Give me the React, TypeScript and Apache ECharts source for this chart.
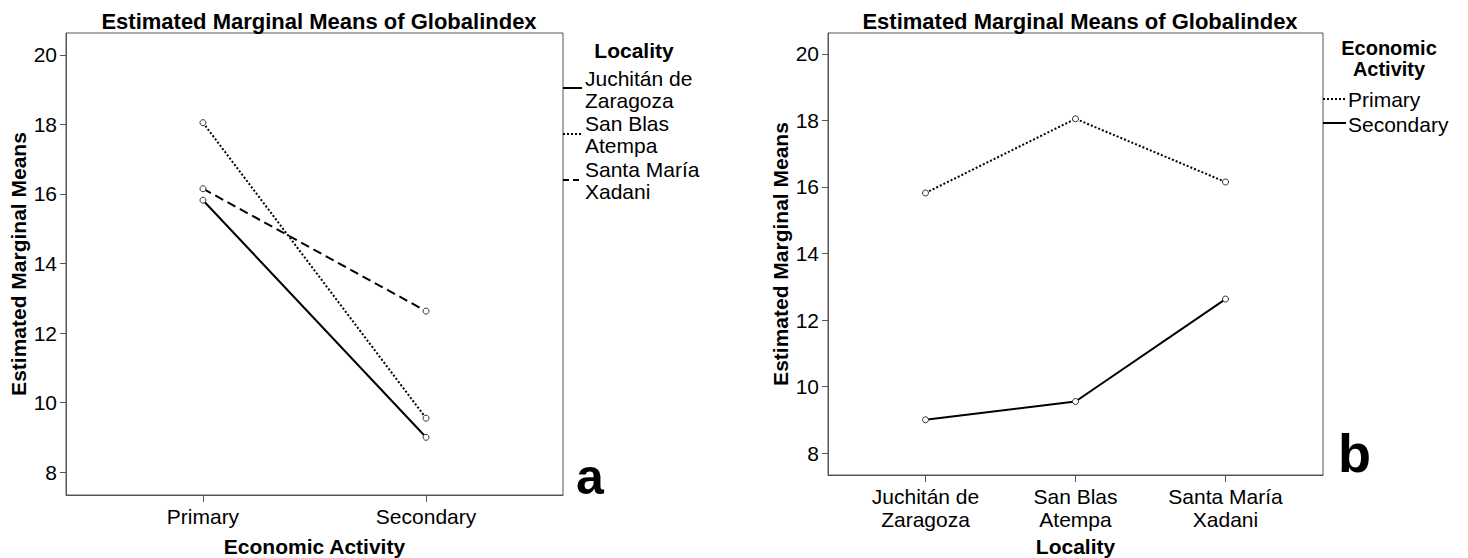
import React, { useEffect, useRef } from "react";
import * as echarts from "echarts";

// ---- Data ----
const econCategories = ["Primary", "Secondary"];
const localityCategories = ["Juchitán de\nZaragoza", "San Blas\nAtempa", "Santa María\nXadani"];
const localityLegend = ["Juchitán de\nZaragoza", "San Blas\nAtempa", "Santa María\nXadani"];

// Estimated marginal means by Locality across Economic Activity (Primary, Secondary)
const juchitan = [15.82, 9.0];
const sanBlas = [18.05, 9.55];
const santaMaria = [16.15, 12.63];

// Same means arranged by Economic Activity across Locality
const primaryByLocality = [juchitan[0], sanBlas[0], santaMaria[0]];
const secondaryByLocality = [juchitan[1], sanBlas[1], santaMaria[1]];

const yTicks = [8, 10, 12, 14, 16, 18, 20];

const FONT = "'Liberation Sans', Arial, Helvetica, sans-serif";

export default function App() {
  const ref = useRef<HTMLDivElement>(null);

  useEffect(() => {
    if (!ref.current) return;
    const chart = echarts.init(ref.current, undefined, { renderer: "svg" });

    const toPts = (vals: number[]) => vals.map((v, i) => [i, v]);

    const lineSeries = (name: string, vals: number[], dash: any, gi: number) => ({
      type: "line",
      name,
      xAxisIndex: gi,
      yAxisIndex: gi,
      data: toPts(vals),
      symbol: "circle",
      symbolSize: 6,
      showSymbol: true,
      itemStyle: { color: "#ffffff", borderColor: "#333", borderWidth: 1 },
      lineStyle: { color: "#000", width: 2, type: dash },
      emphasis: { disabled: true },
      z: 3,
    });

    const yAxisCommon = (gi: number) => ({
      type: "value",
      gridIndex: gi,
      position: "left",
      min: 7.34,
      max: 20.63,
      name: "Estimated Marginal Means",
      nameLocation: "middle",
      nameGap: 37,
      nameTextStyle: { fontFamily: FONT, fontSize: 21, fontWeight: "bold", color: "#000" },
      axisLine: { show: true, onZero: false, lineStyle: { color: "#555", width: 1 } },
      axisTick: { show: true, length: 6, customValues: yTicks, lineStyle: { color: "#555" } },
      axisLabel: {
        customValues: yTicks,
        fontFamily: FONT,
        fontSize: 21,
        color: "#000",
        margin: 9,
      },
      splitLine: { show: false },
    });

    const titleStyle = { fontFamily: FONT, fontSize: 22, fontWeight: "bold", color: "#000" };

    const option: any = {
      animation: false,
      backgroundColor: "#ffffff",
      title: [
        { text: "Estimated Marginal Means of Globalindex", left: 314, top: 5, textAlign: "center", textStyle: titleStyle },
        { text: "Estimated Marginal Means of Globalindex", left: 1075, top: 5, textAlign: "center", textStyle: titleStyle },
      ],
      grid: [
        { left: 66, top: 33, width: 497, height: 462, outerBoundsMode: "none", containLabel: false, show: true, borderColor: "#555", borderWidth: 1, backgroundColor: "transparent" },
        { left: 828, top: 33, width: 495, height: 442, outerBoundsMode: "none", containLabel: false, show: true, borderColor: "#555", borderWidth: 1, backgroundColor: "transparent" },
      ],
      xAxis: [
        {
          type: "value",
          gridIndex: 0,
          position: "bottom",
          min: -0.614,
          max: 1.614,
          name: "Economic Activity",
          nameLocation: "middle",
          nameGap: 41,
          nameTextStyle: { fontFamily: FONT, fontSize: 21, fontWeight: "bold", color: "#000" },
          axisLine: { show: true, onZero: false, lineStyle: { color: "#555", width: 1 } },
          axisTick: { show: true, length: 7, customValues: [0, 1], lineStyle: { color: "#555" } },
          axisLabel: {
            customValues: [0, 1],
            formatter: (v: number) => econCategories[Math.round(v)] ?? "",
            fontFamily: FONT,
            fontSize: 21,
            color: "#000",
            margin: 11,
          },
          splitLine: { show: false },
        },
        {
          type: "value",
          gridIndex: 1,
          position: "bottom",
          min: -0.65,
          max: 2.65,
          name: "Locality",
          nameLocation: "middle",
          nameGap: 61,
          nameTextStyle: { fontFamily: FONT, fontSize: 21, fontWeight: "bold", color: "#000" },
          axisLine: { show: true, onZero: false, lineStyle: { color: "#555", width: 1 } },
          axisTick: { show: true, length: 7, customValues: [0, 1, 2], lineStyle: { color: "#555" } },
          axisLabel: {
            customValues: [0, 1, 2],
            formatter: (v: number) => localityCategories[Math.round(v)] ?? "",
            fontFamily: FONT,
            fontSize: 21,
            lineHeight: 23,
            color: "#000",
            margin: 10,
          },
          splitLine: { show: false },
        },
      ],
      yAxis: [yAxisCommon(0), yAxisCommon(1)],
      series: [
        lineSeries("Juchitán de Zaragoza", juchitan, "solid", 0),
        lineSeries("San Blas Atempa", sanBlas, [2, 2], 0),
        lineSeries("Santa María Xadani", santaMaria, [9, 5], 0),
        lineSeries("Primary", primaryByLocality, [2, 2], 1),
        lineSeries("Secondary", secondaryByLocality, "solid", 1),
      ],
      graphic: [
        // Left legend
        { type: "text", x: 634, y: 50, style: { text: "Locality", font: `bold 21px ${FONT}`, fill: "#000", align: "center", verticalAlign: "middle" } },
        { type: "text", x: 585, y: 67, style: { text: localityLegend[0], font: `21px ${FONT}`, lineHeight: 22, fill: "#000", align: "left", verticalAlign: "top" } },
        { type: "line", shape: { x1: 563, y1: 88, x2: 582, y2: 88 }, style: { stroke: "#000", lineWidth: 2 } },
        { type: "text", x: 585, y: 112, style: { text: localityLegend[1], font: `21px ${FONT}`, lineHeight: 22, fill: "#000", align: "left", verticalAlign: "top" } },
        { type: "line", shape: { x1: 563, y1: 134, x2: 582, y2: 134 }, style: { stroke: "#000", lineWidth: 2, lineDash: [2, 2] } },
        { type: "text", x: 585, y: 158, style: { text: localityLegend[2], font: `21px ${FONT}`, lineHeight: 22, fill: "#000", align: "left", verticalAlign: "top" } },
        { type: "line", shape: { x1: 563, y1: 180, x2: 582, y2: 180 }, style: { stroke: "#000", lineWidth: 2, lineDash: [6, 4] } },
        // Right legend
        { type: "text", x: 1389, y: 37, style: { text: "Economic\nActivity", font: `bold 20px ${FONT}`, lineHeight: 21, fill: "#000", align: "center", verticalAlign: "top" } },
        { type: "line", shape: { x1: 1323, y1: 99, x2: 1346, y2: 99 }, style: { stroke: "#000", lineWidth: 2, lineDash: [2, 2] } },
        { type: "text", x: 1348, y: 99, style: { text: econCategories[0], font: `21px ${FONT}`, fill: "#000", align: "left", verticalAlign: "middle" } },
        { type: "line", shape: { x1: 1323, y1: 123, x2: 1346, y2: 123 }, style: { stroke: "#000", lineWidth: 2 } },
        { type: "text", x: 1348, y: 124, style: { text: econCategories[1], font: `21px ${FONT}`, fill: "#000", align: "left", verticalAlign: "middle" } },
        // Panel letters
        { type: "text", x: 576, y: 477, style: { text: "a", font: `bold 50px ${FONT}`, fill: "#000", align: "left", verticalAlign: "middle" } },
        { type: "text", x: 1338, y: 453, style: { text: "b", font: `bold 54px ${FONT}`, fill: "#000", align: "left", verticalAlign: "middle" } },
      ],
    };

    chart.setOption(option);
    return () => chart.dispose();
  }, []);

  return (
    <div
      ref={ref}
      style={{ position: "absolute", left: 0, top: 0, width: 1468, height: 558, background: "#fff" }}
    />
  );
}
